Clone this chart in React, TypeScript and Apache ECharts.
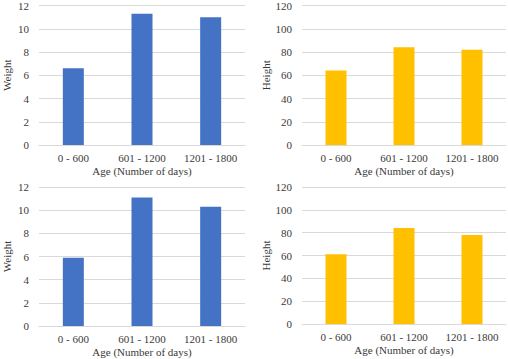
import React, { useEffect, useRef } from "react";
import * as echarts from "echarts";

const categories = ["0 - 600", "601 - 1200", "1201 - 1800"];
const weightTop = [6.6, 11.3, 11.0];
const heightTop = [64, 84, 82];
const weightBottom = [5.9, 11.1, 10.3];
const heightBottom = [61, 84, 78];
const xAxisTitle = "Age (Number of days)";
const weightTitle = "Weight";
const heightTitle = "Height";

const BLUE = "#4472C4";
const GOLD = "#FFC000";
const GRID = "#D9D9D9";
const TEXT = "#3a3a3a";
const FONT = "Liberation Serif";

export default function App() {
  const ref = useRef<HTMLDivElement>(null);
  useEffect(() => {
    if (!ref.current) return;
    const chart = echarts.init(ref.current, undefined, { renderer: "svg" });
    const grids = [
      { left: 36, right: 263, top: 5, bottom: 214 },
      { left: 302, right: 2, top: 5, bottom: 214 },
      { left: 36, right: 263, top: 187, bottom: 33 },
      { left: 302, right: 2, top: 187, bottom: 35 },
    ];
    const xAxes = grids.map((_, i) => ({
      type: "category" as const,
      gridIndex: i,
      data: categories,
      name: xAxisTitle,
      nameLocation: "middle" as const,
      nameGap: 20,
      nameTextStyle: { color: TEXT, fontFamily: FONT, fontSize: 11 },
      axisLine: { show: true, lineStyle: { color: GRID, width: 1 } },
      axisTick: { show: false },
      axisLabel: { color: TEXT, fontFamily: FONT, fontSize: 11, margin: 7, interval: 0 },
    }));
    const isWeight = [true, false, true, false];
    const yAxes = grids.map((_, i) => ({
      type: "value" as const,
      gridIndex: i,
      min: 0,
      max: isWeight[i] ? 12 : 120,
      interval: isWeight[i] ? 2 : 20,
      name: isWeight[i] ? weightTitle : heightTitle,
      nameLocation: "middle" as const,
      nameGap: isWeight[i] ? 27 : 29,
      nameRotate: 90,
      nameTextStyle: { color: TEXT, fontFamily: FONT, fontSize: 11 },
      axisLine: { show: false },
      axisTick: { show: false },
      splitLine: { lineStyle: { color: GRID, width: 1 } },
      axisLabel: { color: TEXT, fontFamily: FONT, fontSize: 11, margin: 10 },
    }));
    const datasets = [weightTop, heightTop, weightBottom, heightBottom];
    const series = datasets.map((d, i) => ({
      type: "bar" as const,
      xAxisIndex: i,
      yAxisIndex: i,
      data: d,
      barWidth: 21,
      itemStyle: { color: isWeight[i] ? BLUE : GOLD },
    }));
    chart.setOption({
      animation: false,
      textStyle: { fontFamily: FONT },
      grid: grids,
      xAxis: xAxes,
      yAxis: yAxes,
      series,
    });
    return () => chart.dispose();
  }, []);
  return (
    <div
      ref={ref}
      style={{ position: "absolute", left: 0, top: 0, width: 508, height: 359, background: "#fff" }}
    />
  );
}
